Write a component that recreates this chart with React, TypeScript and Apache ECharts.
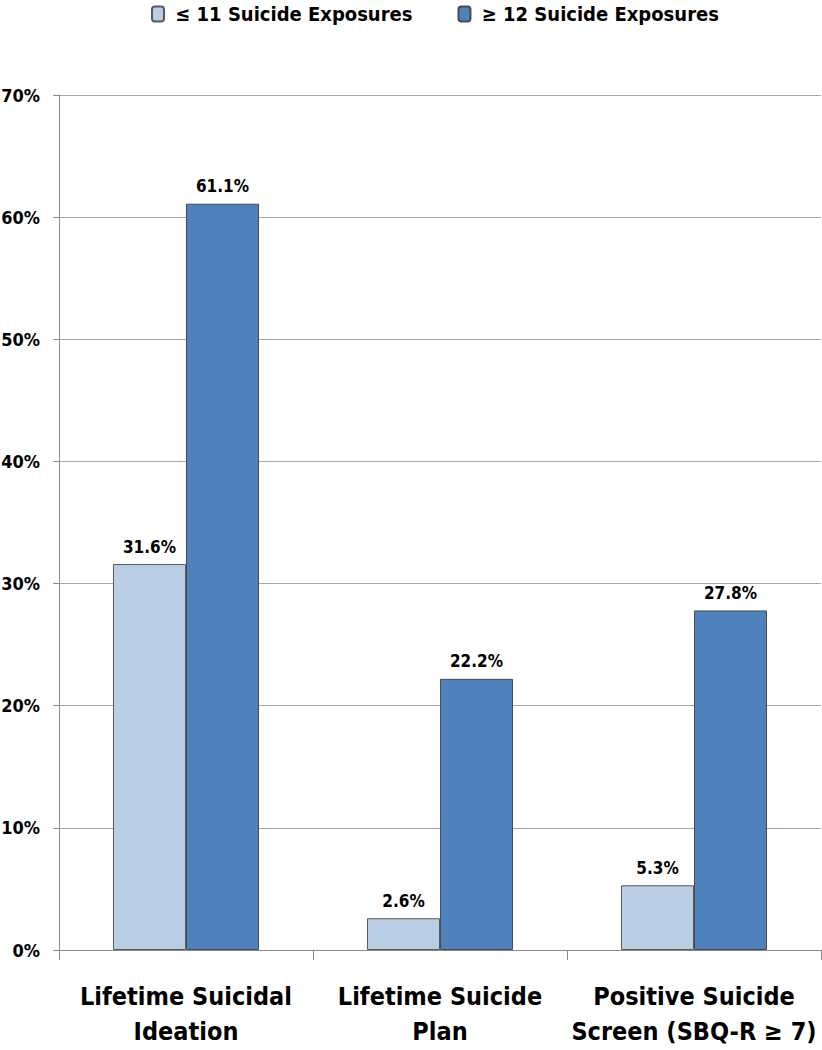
import React, { useEffect, useRef } from "react";
import * as echarts from "echarts";

const categories = ["Lifetime Suicidal\nIdeation", "Lifetime Suicide\nPlan", "Positive Suicide\nScreen (SBQ-R ≥ 7)"];
const seriesNames = ["≤ 11 Suicide Exposures", "≥ 12 Suicide Exposures"];
const lowExposure = [31.6, 2.6, 5.3];
const highExposure = [61.1, 22.2, 27.8];
const yTicks = { min: 0, max: 70, interval: 10 };

const FONT = "'Liberation Sans Narrow', 'DejaVu Sans Condensed', 'Open Sans', sans-serif";

export default function App() {
  const ref = useRef<HTMLDivElement>(null);
  useEffect(() => {
    document.body.style.margin = "0";
    const chart = echarts.init(ref.current!, undefined, { renderer: "svg" });
    const label = {
      show: true,
      position: "top",
      distance: 9,
      formatter: (p: any) => p.value.toFixed(1) + "%",
      fontFamily: FONT,
      fontWeight: "bold",
      fontSize: 17,
      color: "#000",
    };
    chart.setOption({
      animation: false,
      textStyle: { fontFamily: FONT },
      legend: {
        top: -1,
        left: 146,
        itemWidth: 12,
        itemHeight: 15,
        itemGap: 45,
        formatter: (n: string) => " " + n,
        textStyle: { fontFamily: FONT, fontWeight: "bold", fontSize: 20, color: "#000" },
        data: seriesNames,
      },
      grid: { left: 59, right: 1, top: 95, bottom: 100, containLabel: false, outerBoundsMode: "none" },
      xAxis: {
        type: "category",
        data: categories,
        axisLine: { lineStyle: { color: "#8a8a8a", width: 1 } },
        axisTick: { show: true, length: 10, lineStyle: { color: "#8a8a8a" } },
        axisLabel: {
          interval: 0,
          margin: 29,
          fontFamily: FONT,
          fontWeight: "bold",
          fontSize: 25,
          lineHeight: 35,
          color: "#000",
        },
      },
      yAxis: {
        type: "value",
        min: yTicks.min,
        max: yTicks.max,
        interval: yTicks.interval,
        axisLine: { show: true, lineStyle: { color: "#8a8a8a", width: 1 } },
        axisTick: { show: true, length: 6, lineStyle: { color: "#8a8a8a" } },
        splitLine: { lineStyle: { color: "#a6a6a6", width: 1 } },
        axisLabel: {
          formatter: "{value}%",
          margin: 19,
          fontFamily: FONT,
          fontWeight: "bold",
          fontSize: 18,
          color: "#000",
        },
      },
      series: [
        {
          name: seriesNames[0],
          type: "bar",
          data: lowExposure,
          barGap: "0%",
          barCategoryGap: "42.5%",
          itemStyle: { color: "#b9cde5", borderColor: "#5a5a5a", borderWidth: 1 },
          label,
        },
        {
          name: seriesNames[1],
          type: "bar",
          data: highExposure,
          barGap: "0%",
          barCategoryGap: "42.5%",
          itemStyle: { color: "#4f81bd", borderColor: "#4a4a4a", borderWidth: 1 },
          label,
        },
      ],
    });
    return () => chart.dispose();
  }, []);
  return <div ref={ref} style={{ width: 822, height: 1050 }} />;
}
